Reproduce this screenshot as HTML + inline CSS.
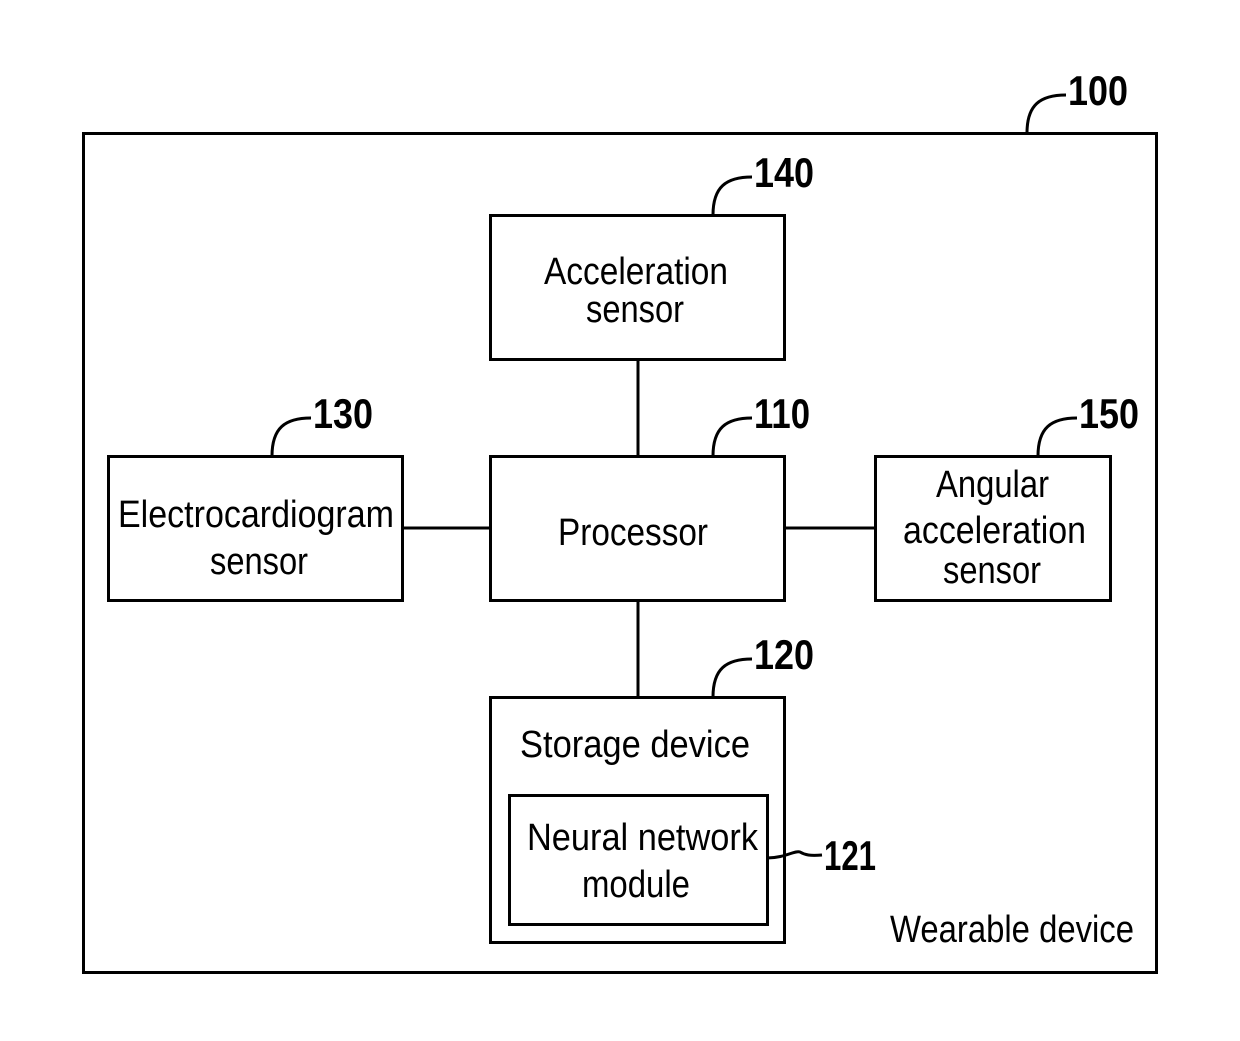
<!DOCTYPE html>
<html><head><meta charset="utf-8"><style>
html,body{margin:0;padding:0;background:#fff}
svg{display:block}
text{font-family:"Liberation Sans Narrow","Liberation Sans",sans-serif;fill:#000}
.t{font-size:38px}
.n{font-size:42px;font-weight:bold}
</style></head><body>
<svg width="1240" height="1041" viewBox="0 0 1240 1041">
<g fill="none" stroke="#000" stroke-width="3">
<rect x="83.5" y="133.5" width="1073" height="839"/>
<rect x="490.5" y="215.5" width="294" height="144"/>
<rect x="490.5" y="456.5" width="294" height="144"/>
<rect x="108.5" y="456.5" width="294" height="144"/>
<rect x="875.5" y="456.5" width="235" height="144"/>
<rect x="490.5" y="697.5" width="294" height="245"/>
<rect x="509.5" y="795.5" width="258" height="129"/>
<line x1="638" y1="359" x2="638" y2="456"/>
<line x1="638" y1="600" x2="638" y2="697"/>
<line x1="402" y1="528" x2="490" y2="528"/>
<line x1="784" y1="528" x2="875" y2="528"/>
<path d="M1027 133 C1027 105 1040 95 1066 95"/>
<path d="M713 215 C713 187 726 177 752 177"/>
<path d="M272 456 C272 428 285 418 311 418"/>
<path d="M713 456 C713 428 726 418 752 418"/>
<path d="M1038 456 C1038 428 1051 418 1077 418"/>
<path d="M713 697 C713 669 726 659 752 659"/>
<path d="M767 858 C785 858 795 850 800 852 C805 855 810 856 822 855"/>
</g>
<g text-anchor="start">
<text class="n" x="1068" y="105" textLength="60" lengthAdjust="spacingAndGlyphs">100</text>
<text class="n" x="754" y="187" textLength="60" lengthAdjust="spacingAndGlyphs">140</text>
<text class="n" x="313" y="428" textLength="60" lengthAdjust="spacingAndGlyphs">130</text>
<text class="n" x="754" y="428" textLength="56" lengthAdjust="spacingAndGlyphs">110</text>
<text class="n" x="1079" y="428" textLength="60" lengthAdjust="spacingAndGlyphs">150</text>
<text class="n" x="754" y="669" textLength="60" lengthAdjust="spacingAndGlyphs">120</text>
<text class="n" x="824" y="870" textLength="52" lengthAdjust="spacingAndGlyphs">121</text>
<text class="t" x="544" y="284" textLength="184" lengthAdjust="spacingAndGlyphs">Acceleration</text>
<text class="t" x="586" y="322" textLength="98" lengthAdjust="spacingAndGlyphs">sensor</text>
<text class="t" x="558" y="545" textLength="150" lengthAdjust="spacingAndGlyphs">Processor</text>
<text class="t" x="118" y="527" textLength="276" lengthAdjust="spacingAndGlyphs">Electrocardiogram</text>
<text class="t" x="210" y="574" textLength="98" lengthAdjust="spacingAndGlyphs">sensor</text>
<text class="t" x="936" y="497" textLength="113" lengthAdjust="spacingAndGlyphs">Angular</text>
<text class="t" x="903" y="543" textLength="183" lengthAdjust="spacingAndGlyphs">acceleration</text>
<text class="t" x="943" y="583" textLength="98" lengthAdjust="spacingAndGlyphs">sensor</text>
<text class="t" x="520" y="757" textLength="230" lengthAdjust="spacingAndGlyphs">Storage  device</text>
<text class="t" x="527" y="850" textLength="231" lengthAdjust="spacingAndGlyphs">Neural  network</text>
<text class="t" x="582" y="897" textLength="108" lengthAdjust="spacingAndGlyphs">module</text>
<text class="t" x="890" y="942" textLength="244" lengthAdjust="spacingAndGlyphs">Wearable  device</text>
</g>
</svg>
</body></html>
